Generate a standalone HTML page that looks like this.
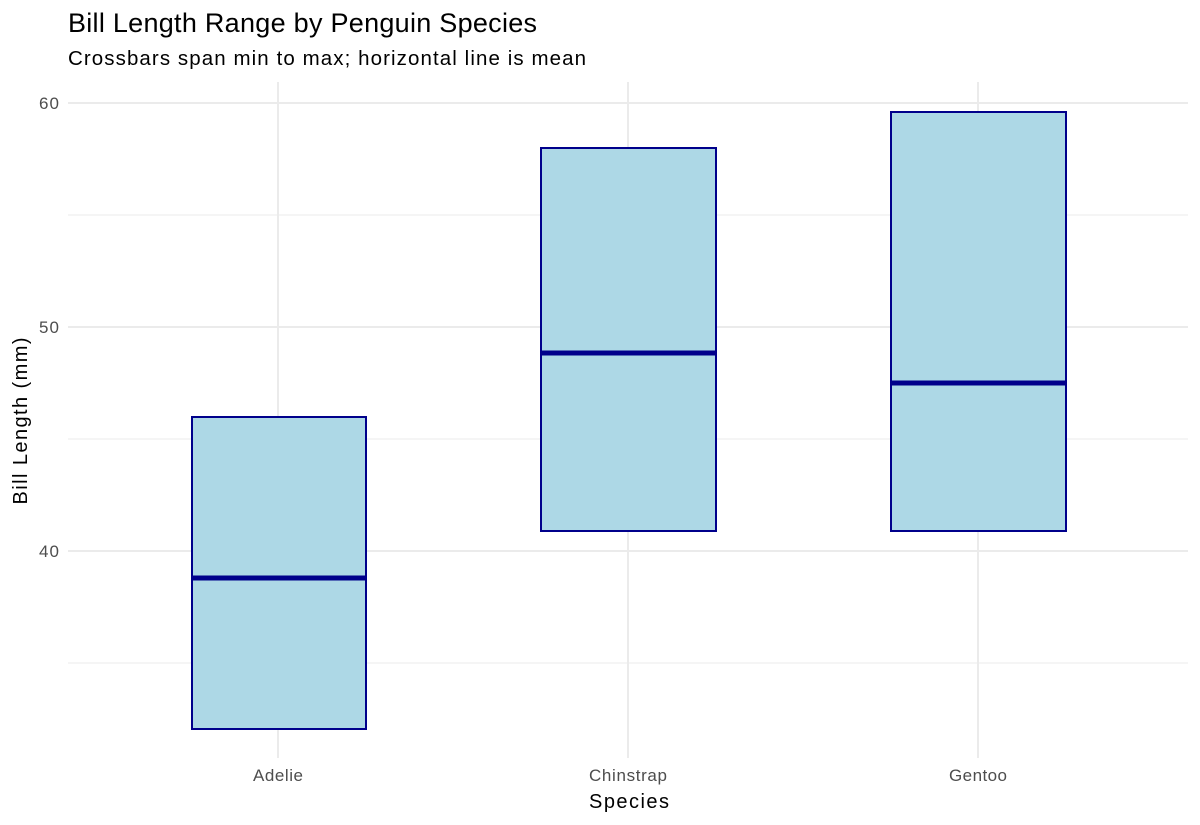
<!DOCTYPE html>
<html><head><meta charset="utf-8"><style>
body{margin:0;background:#fff;}
svg{display:block;font-family:"Liberation Sans",Arial,sans-serif;}
</style></head><body>
<svg width="1200" height="825" viewBox="0 0 1200 825">
<rect width="1200" height="825" fill="#fff"/>
<g stroke="#ebebeb" stroke-width="1">
<line x1="68" x2="1188" y1="215" y2="215"/>
<line x1="68" x2="1188" y1="439" y2="439"/>
<line x1="68" x2="1188" y1="663" y2="663"/>
</g>
<g stroke="#ebebeb" stroke-width="2">
<line x1="68" x2="1188" y1="103" y2="103"/>
<line x1="68" x2="1188" y1="327" y2="327"/>
<line x1="68" x2="1188" y1="551" y2="551"/>
<line x1="278" x2="278" y1="82" y2="758"/>
<line x1="628" x2="628" y1="82" y2="758"/>
<line x1="978" x2="978" y1="82" y2="758"/>
</g>
<g fill="#add8e6" stroke="#00008b" stroke-width="2">
<rect x="192" y="417" width="174" height="312"/>
<rect x="541" y="148" width="175" height="383"/>
<rect x="891" y="112" width="175" height="419"/>
</g>
<g stroke="#00008b" stroke-width="5">
<line x1="192" x2="366" y1="578" y2="578"/>
<line x1="541" x2="716" y1="353" y2="353"/>
<line x1="891" x2="1066" y1="383" y2="383"/>
</g>
<g fill="#4d4d4d" font-size="17" text-anchor="end">
<text x="59" y="109" textLength="20">60</text>
<text x="59" y="333" textLength="20">50</text>
<text x="59" y="557" textLength="20">40</text>
</g>
<g fill="#4d4d4d" font-size="17" text-anchor="middle">
<text x="278" y="781" textLength="50">Adelie</text>
<text x="628" y="781" textLength="78">Chinstrap</text>
<text x="978" y="781" textLength="58">Gentoo</text>
</g>
<text x="629" y="808" font-size="20" text-anchor="middle" fill="#000" textLength="80">Species</text>
<text transform="translate(27,421) rotate(-90)" font-size="20" text-anchor="middle" fill="#000" textLength="167">Bill Length (mm)</text>
<text x="68" y="32" font-size="27" fill="#000" textLength="469">Bill Length Range by Penguin Species</text>
<text x="68" y="65" font-size="20.5" fill="#000" textLength="518">Crossbars span min to max; horizontal line is mean</text>
</svg>
</body></html>
